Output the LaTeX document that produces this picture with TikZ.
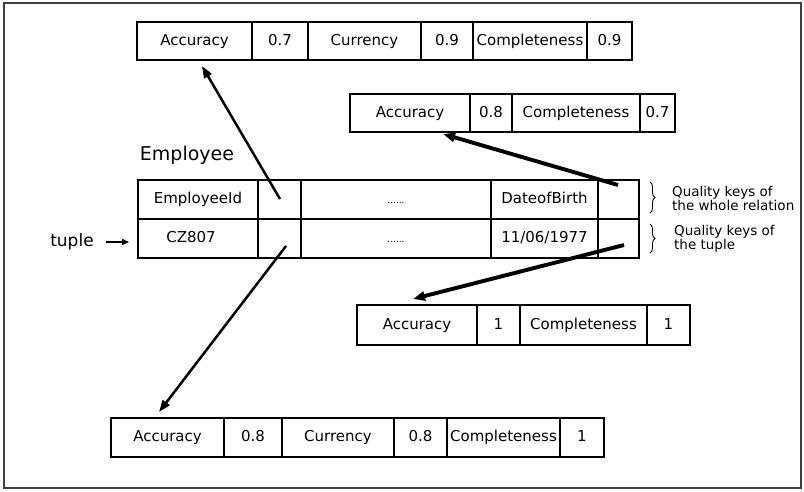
\documentclass[tikz,border=0pt]{standalone}
\usepackage{fontspec}
\setmainfont{DejaVu Sans}
\usetikzlibrary{arrows.meta,decorations.pathreplacing}

% one cell of a quality box: name, left x, right x, centre y, height, text
\newcommand\qcell[6]{%
  \node[cell, minimum width={(#3)-(#2)}, minimum height={#5}] (#1) at ({((#2)+(#3))/2},#4) {#6};}

\begin{document}
\begin{tikzpicture}[x=1pt,y=-1pt,
  cell/.style={draw, line width=1.2pt, inner sep=0pt,
    font=\fontsize{15}{17}\selectfont, text height=11pt, text depth=3pt},
  link/.style={line width=2.5pt, -{Triangle[length=12pt,width=8.5pt]}},
  heavylink/.style={line width=3.9pt, -{Triangle[length=12pt,width=9pt]}},
  note/.style={font=\fontsize{13.5}{14}\selectfont, align=left, inner sep=0pt, anchor=west},
  qbrace/.style={decorate, decoration={brace, amplitude=5pt}, line width=0.9pt}]

% frame
\draw[line width=1.5pt, black!75] (4,3) rectangle (801,488);
\useasboundingbox (0,0) rectangle (804,491);

% quality values of the whole relation
\qcell{ra}{137}{252}{41}{38}{Accuracy}
\qcell{rav}{252}{308}{41}{38}{0.7}
\qcell{rc}{308}{421}{41}{38}{Currency}
\qcell{rcv}{421}{473}{41}{38}{0.9}
\qcell{rp}{473}{587}{41}{38}{Completeness}
\qcell{rpv}{587}{632}{41}{38}{0.9}

% quality values of the attribute DateofBirth
\qcell{da}{350}{470}{113}{38}{Accuracy}
\qcell{dav}{470}{512}{113}{38}{0.8}
\qcell{dp}{512}{640}{113}{38}{Completeness}
\qcell{dpv}{640}{675}{113}{38}{0.7}

% the relation Employee
\node[font=\fontsize{19}{21}\selectfont, inner sep=0pt] (title) at (187,155) {Employee};
\qcell{h1}{138}{258}{199.5}{39}{EmployeeId}
\qcell{h2}{258}{301}{199.5}{39}{}
\qcell{h3}{301}{491}{199.5}{39}{\fontsize{9}{10}\selectfont ......}
\qcell{h4}{491}{598}{199.5}{39}{DateofBirth}
\qcell{h5}{598}{639}{199.5}{39}{}
\qcell{v1}{138}{258}{238.5}{39}{\hspace*{-14pt}CZ807}
\qcell{v2}{258}{301}{238.5}{39}{}
\qcell{v3}{301}{491}{238.5}{39}{\fontsize{9}{10}\selectfont ......}
\qcell{v4}{491}{598}{238.5}{39}{11/06/1977}
\qcell{v5}{598}{639}{238.5}{39}{}

% tuple marker
\node[font=\fontsize{17}{19}\selectfont, inner sep=0pt] (tuple) at (72,242) {tuple};
\coordinate (tupletip) at (129,242);
\draw[line width=1.5pt, -{Triangle[length=7pt,width=6pt]}] (tuple.east) ++(12,0) -- (tupletip);

% braces and their notes
\coordinate (b1t) at (650,182);
\coordinate (b1b) at (650,213);
\coordinate (b2t) at (650,224);
\coordinate (b2b) at (650,253);
\draw[qbrace] (b1t) -- (b1b);
\draw[qbrace] (b2t) -- (b2b);
\node[note] (n1) at (672,198.5) {Quality keys of\\the whole relation};
\node[note] (n2) at (674,239) {Quality keys of\\the tuple};

% quality values of the tuple
\qcell{ta}{357}{477}{325}{40}{Accuracy}
\qcell{tav}{477}{520}{325}{40}{1}
\qcell{tp}{520}{647}{325}{40}{Completeness}
\qcell{tpv}{647}{690}{325}{40}{1}

% quality values of the attribute EmployeeId in this tuple
\qcell{ea}{111}{224}{437.5}{39}{Accuracy}
\qcell{eav}{224}{282}{437.5}{39}{0.8}
\qcell{ec}{282}{394}{437.5}{39}{Currency}
\qcell{ecv}{394}{447}{437.5}{39}{0.8}
\qcell{ep}{447}{560}{437.5}{39}{Completeness}
\qcell{epv}{560}{604}{437.5}{39}{1}

% links from the key cells to their quality values
\coordinate (k1) at (280,199);
\coordinate (k2) at (618,185);
\coordinate (k3) at (286,246);
\coordinate (k4) at (624,245);
\coordinate (q1) at (202,66);
\coordinate (q2) at (443,134);
\coordinate (q3) at (159,412);
\coordinate (q4) at (413,299);
\draw[link] (k1) -- (q1);
\draw[heavylink] (k2) -- (q2);
\draw[link] (k3) -- (q3);
\draw[heavylink] (k4) -- (q4);
\end{tikzpicture}
\end{document}
